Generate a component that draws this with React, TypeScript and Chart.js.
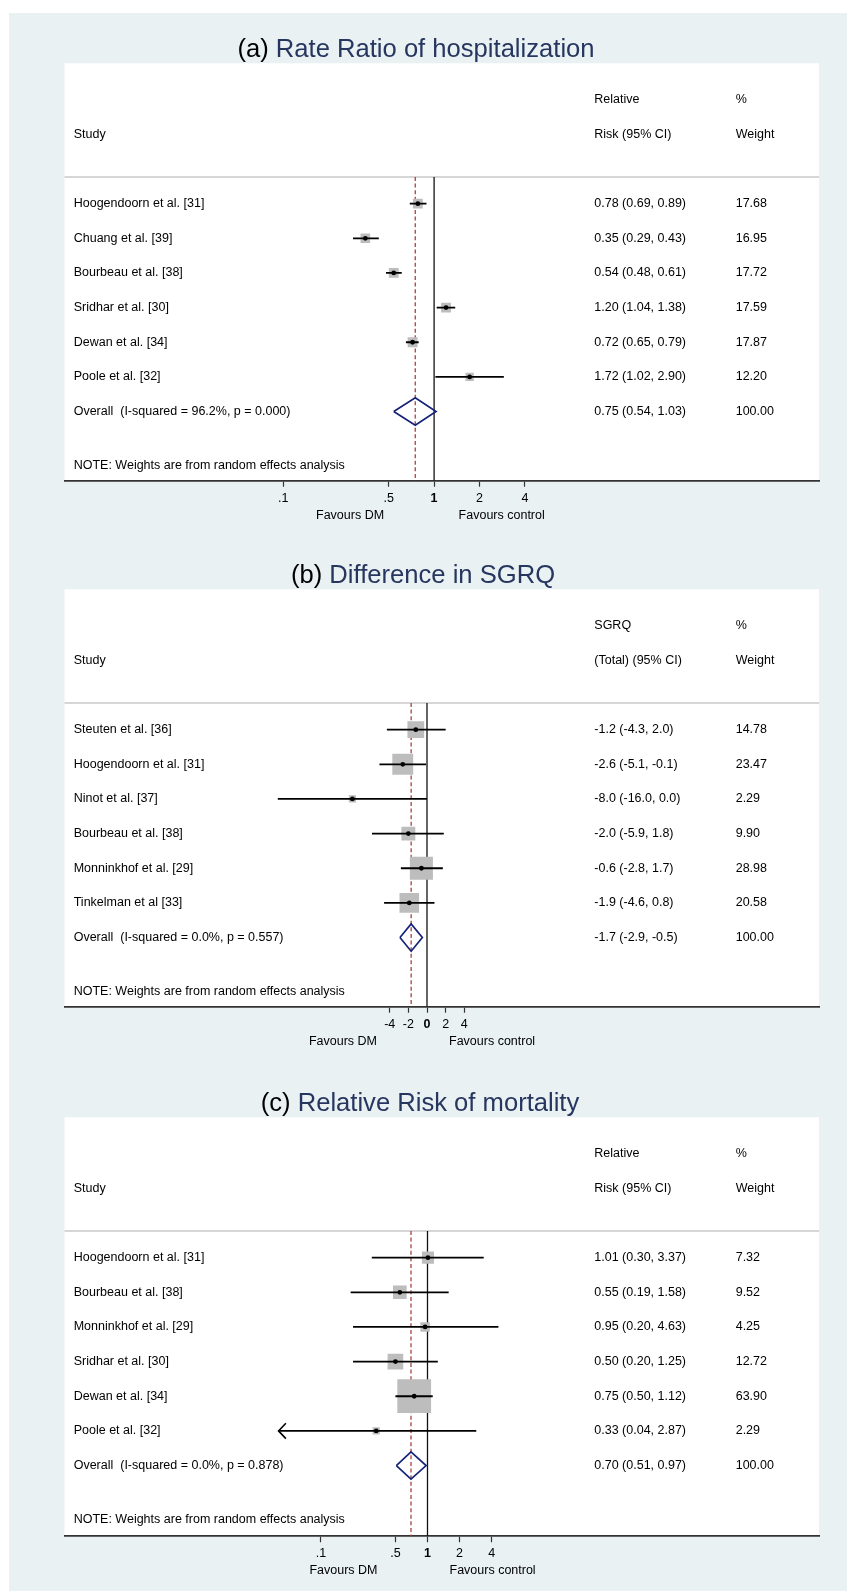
import React, { useEffect, useRef } from 'react';
import { Chart, registerables } from 'chart.js';

Chart.register(...registerables);

// ---------------- DATA ----------------
// (a) Rate Ratio of hospitalization
const studiesA = [
  'Hoogendoorn et al. [31]',
  'Chuang et al. [39]',
  'Bourbeau et al. [38]',
  'Sridhar et al. [30]',
  'Dewan et al. [34]',
  'Poole et al. [32]',
];
const estA = [0.78, 0.35, 0.54, 1.2, 0.72, 1.72];
const lowA = [0.69, 0.29, 0.48, 1.04, 0.65, 1.02];
const highA = [0.89, 0.43, 0.61, 1.38, 0.79, 2.9];
const weightA = [17.68, 16.95, 17.72, 17.59, 17.87, 12.2];
const overallA = [0.75, 0.54, 1.03]; // estimate, low, high
const overallLabelA = 'Overall  (I-squared = 96.2%, p = 0.000)';
const ticksA = [0.1, 0.5, 1, 2, 4];
const tickLabelsA = ['.1', '.5', '1', '2', '4'];

// (b) Difference in SGRQ
const studiesB = [
  'Steuten et al. [36]',
  'Hoogendoorn et al. [31]',
  'Ninot et al. [37]',
  'Bourbeau et al. [38]',
  'Monninkhof et al. [29]',
  'Tinkelman et al [33]',
];
const estB = [-1.2, -2.6, -8.0, -2.0, -0.6, -1.9];
const lowB = [-4.3, -5.1, -16.0, -5.9, -2.8, -4.6];
const highB = [2.0, -0.1, 0.0, 1.8, 1.7, 0.8];
const weightB = [14.78, 23.47, 2.29, 9.9, 28.98, 20.58];
const overallB = [-1.7, -2.9, -0.5];
const overallLabelB = 'Overall  (I-squared = 0.0%, p = 0.557)';
const ticksB = [-4, -2, 0, 2, 4];
const tickLabelsB = ['-4', '-2', '0', '2', '4'];

// (c) Relative Risk of mortality
const studiesC = [
  'Hoogendoorn et al. [31]',
  'Bourbeau et al. [38]',
  'Monninkhof et al. [29]',
  'Sridhar et al. [30]',
  'Dewan et al. [34]',
  'Poole et al. [32]',
];
const estC = [1.01, 0.55, 0.95, 0.5, 0.75, 0.33];
const lowC = [0.3, 0.19, 0.2, 0.2, 0.5, 0.04];
const highC = [3.37, 1.58, 4.63, 1.25, 1.12, 2.87];
const weightC = [7.32, 9.52, 4.25, 12.72, 63.9, 2.29];
const arrowLeftC = [false, false, false, false, false, true];
const overallC = [0.7, 0.51, 0.97];
const overallLabelC = 'Overall  (I-squared = 0.0%, p = 0.878)';
const ticksC = [0.1, 0.5, 1, 2, 4];
const tickLabelsC = ['.1', '.5', '1', '2', '4'];

// ---------------- STYLE / LAYOUT ----------------
const FONT = '"Liberation Sans", Arial, Helvetica, sans-serif';
const TEXT_SIZE = 12.5;
const TITLE_SIZE = 25.6;
const BG = '#e9f1f3';
const NAVY_TITLE = '#27365f';
const NAVY_DIAMOND = '#16237a';
const BOX_GRAY = '#bdbdbd';
const DASH_RED = '#a8403f';
const CANVAS_W = 856;
const CANVAS_H = 528;
const PLOT_LEFT = 64.5;
const PLOT_RIGHT = 819;
const PAD_TOP = 63.3;
const ROW_PX = 34.65;
const Y_MIN = -4.05;
const SEP_ROW = -0.77;
const NOTE_ROW = 7.55;
const X_AXIS_H = 40;
const COL1 = 73.7;
const COL2 = 594.3;
const COL3 = 735.7;

type Panel = {
  letter: string;
  title: string;
  studies: string[];
  est: number[];
  low: number[];
  high: number[];
  weight: number[];
  overall: number[];
  overallLabel: string;
  header1: string;
  header2: string;
  decimals: number;
  ticks: number[];
  tickLabels: string[];
  refValue: number;
  log: boolean;
  arrowLeft: boolean[];
  canvasTop: number;
  plotH: number;
  x0: number;
  k: number;
  titleCx: number;
  favRightOff: number;
  boxScale: number;
};

const panels: Panel[] = [
  {
    letter: '(a) ', title: 'Rate Ratio of hospitalization',
    studies: studiesA, est: estA, low: lowA, high: highA, weight: weightA,
    overall: overallA, overallLabel: overallLabelA,
    header1: 'Relative', header2: 'Risk (95% CI)', decimals: 2,
    ticks: ticksA, tickLabels: tickLabelsA, refValue: 1, log: true,
    arrowLeft: studiesA.map(() => false),
    canvasTop: 0, plotH: 417.4, x0: 434.1, k: 65.5, titleCx: 416, favRightOff: 24.5, boxScale: 2.1,
  },
  {
    letter: '(b) ', title: 'Difference in SGRQ',
    studies: studiesB, est: estB, low: lowB, high: highB, weight: weightB,
    overall: overallB, overallLabel: overallLabelB,
    header1: 'SGRQ', header2: '(Total) (95% CI)', decimals: 1,
    ticks: ticksB, tickLabels: tickLabelsB, refValue: 0, log: false,
    arrowLeft: studiesB.map(() => false),
    canvasTop: 526, plotH: 417.4, x0: 427, k: 9.325, titleCx: 423, favRightOff: 22, boxScale: 4.1,
  },
  {
    letter: '(c) ', title: 'Relative Risk of mortality',
    studies: studiesC, est: estC, low: lowC, high: highC, weight: weightC,
    overall: overallC, overallLabel: overallLabelC,
    header1: 'Relative', header2: 'Risk (95% CI)', decimals: 2,
    ticks: ticksC, tickLabels: tickLabelsC, refValue: 1, log: true,
    arrowLeft: arrowLeftC,
    canvasTop: 1054, plotH: 419, x0: 427.5, k: 46.27, titleCx: 420, favRightOff: 22, boxScale: 4.1,
  },
];

function fmtCI(e: number, l: number, h: number, d: number) {
  return `${e.toFixed(d)} (${l.toFixed(d)}, ${h.toFixed(d)})`;
}

function ForestPanel({ p }: { p: Panel }) {
  const ref = useRef<HTMLCanvasElement | null>(null);

  useEffect(() => {
    if (!ref.current) return;
    const n = p.studies.length;
    const yMax = Y_MIN + p.plotH / ROW_PX;
    const xMin = p.log ? Math.exp((PLOT_LEFT - p.x0) / p.k) : (PLOT_LEFT - p.x0) / p.k;
    const xMax = p.log ? Math.exp((PLOT_RIGHT - p.x0) / p.k) : (PLOT_RIGHT - p.x0) / p.k;
    const [oEst, oLow, oHigh] = p.overall;

    const ciSets = p.studies.map((_, i) => ({
      type: 'line' as const,
      data: [
        { x: p.low[i], y: i },
        { x: p.high[i], y: i },
      ],
      borderColor: '#000',
      borderWidth: 1.8,
      pointRadius: 0,
      fill: false,
      showLine: true,
      borderCapStyle: 'butt' as const,
      order: 3,
    }));

    const textPlugin = {
      id: 'forestText' + p.letter,
      beforeDraw(chart: any) {
        const { ctx, chartArea } = chart;
        const ys = chart.scales.y;
        ctx.save();
        // white plot region
        ctx.fillStyle = '#ffffff';
        ctx.fillRect(chartArea.left, chartArea.top, chartArea.right - chartArea.left, chartArea.bottom - chartArea.top);
        // separator
        const sy = ys.getPixelForValue(SEP_ROW);
        ctx.strokeStyle = '#c9c9c9';
        ctx.lineWidth = 1.6;
        ctx.beginPath();
        ctx.moveTo(chartArea.left, sy);
        ctx.lineTo(chartArea.right, sy);
        ctx.stroke();
        // title
        ctx.font = `${TITLE_SIZE}px ${FONT}`;
        ctx.textBaseline = 'alphabetic';
        ctx.textAlign = 'left';
        const w1 = ctx.measureText(p.letter).width;
        const w2 = ctx.measureText(p.title).width;
        const tx = p.titleCx - (w1 + w2) / 2;
        const ty = chartArea.top - 6.3;
        ctx.fillStyle = '#000';
        ctx.fillText(p.letter, tx, ty);
        ctx.fillStyle = NAVY_TITLE;
        ctx.fillText(p.title, tx + w1, ty);
        ctx.restore();
      },
      afterDatasetsDraw(chart: any) {
        const { ctx } = chart;
        const xs = chart.scales.x;
        const ys = chart.scales.y;
        ctx.save();
        ctx.strokeStyle = '#000';
        ctx.lineWidth = 1.6;
        p.arrowLeft.forEach((a, i) => {
          if (!a) return;
          const px = xs.getPixelForValue(p.low[i]);
          const py = ys.getPixelForValue(i);
          ctx.beginPath();
          ctx.moveTo(px + 7.3, py - 7.7);
          ctx.lineTo(px, py);
          ctx.lineTo(px + 7.3, py + 7.7);
          ctx.stroke();
        });
        ctx.restore();
      },
      afterDraw(chart: any) {
        const { ctx, chartArea } = chart;
        const ys = chart.scales.y;
        const xs = chart.scales.x;
        ctx.save();
        ctx.fillStyle = '#000';
        ctx.font = `${TEXT_SIZE}px ${FONT}`;
        ctx.textBaseline = 'middle';
        ctx.textAlign = 'left';
        const yh1 = ys.getPixelForValue(-3);
        const yh2 = ys.getPixelForValue(-2);
        ctx.fillText(p.header1, COL2, yh1);
        ctx.fillText('%', COL3, yh1);
        ctx.fillText('Study', COL1, yh2);
        ctx.fillText(p.header2, COL2, yh2);
        ctx.fillText('Weight', COL3, yh2);
        p.studies.forEach((s, i) => {
          const y = ys.getPixelForValue(i);
          ctx.fillText(s, COL1, y);
          ctx.fillText(fmtCI(p.est[i], p.low[i], p.high[i], p.decimals), COL2, y);
          ctx.fillText(p.weight[i].toFixed(2), COL3, y);
        });
        const yo = ys.getPixelForValue(n);
        ctx.fillText(p.overallLabel, COL1, yo);
        ctx.fillText(fmtCI(oEst, oLow, oHigh, p.decimals), COL2, yo);
        ctx.fillText((100).toFixed(2), COL3, yo);
        ctx.fillText('NOTE: Weights are from random effects analysis', COL1, ys.getPixelForValue(NOTE_ROW));
        // favours labels
        const refPx = xs.getPixelForValue(p.refValue);
        const fy = chartArea.bottom + 34.5;
        ctx.textAlign = 'right';
        ctx.fillText('Favours DM', refPx - 50, fy);
        ctx.textAlign = 'left';
        ctx.fillText('Favours control', refPx + p.favRightOff, fy);
        ctx.restore();
      },
    };

    const chart = new Chart(ref.current, {
      type: 'scatter',
      data: {
        datasets: [
          // overall diamond
          {
            type: 'line',
            data: [
              { x: oLow, y: n },
              { x: oEst, y: n - 0.395 },
              { x: oHigh, y: n },
              { x: oEst, y: n + 0.395 },
              { x: oLow, y: n },
            ],
            borderColor: NAVY_DIAMOND,
            borderWidth: 1.7,
            borderJoinStyle: 'miter',
            pointRadius: 0,
            fill: false,
            showLine: true,
            order: 1,
          },
          // point estimates
          {
            type: 'scatter',
            data: p.est.map((e, i) => ({ x: e, y: i })),
            pointStyle: 'circle',
            pointRadius: 2.4,
            backgroundColor: '#000',
            borderColor: '#000',
            borderWidth: 0,
            order: 2,
          },
          ...ciSets,
          // weight boxes
          {
            type: 'scatter',
            data: p.est.map((e, i) => ({ x: e, y: i })),
            pointStyle: 'rect',
            pointRadius: p.weight.map((w) => (p.boxScale * Math.sqrt(w) + 1) / Math.SQRT2),
            backgroundColor: BOX_GRAY,
            borderColor: BOX_GRAY,
            borderWidth: 0,
            order: 4,
          },
          // null line
          {
            type: 'line',
            data: [
              { x: p.refValue, y: SEP_ROW },
              { x: p.refValue, y: yMax },
            ],
            borderColor: '#111',
            borderWidth: 1.3,
            pointRadius: 0,
            fill: false,
            showLine: true,
            order: 5,
          },
          // overall estimate dashed line
          {
            type: 'line',
            data: [
              { x: oEst, y: SEP_ROW },
              { x: oEst, y: yMax },
            ],
            borderColor: DASH_RED,
            borderWidth: 1.3,
            borderDash: [4, 2.6],
            pointRadius: 0,
            fill: false,
            showLine: true,
            order: 6,
          },
        ] as any,
      },
      options: {
        responsive: false,
        animation: false,
        events: [],
        layout: {
          padding: {
            top: PAD_TOP,
            left: PLOT_LEFT,
            right: CANVAS_W - PLOT_RIGHT,
            bottom: CANVAS_H - PAD_TOP - p.plotH - X_AXIS_H,
          },
        },
        plugins: {
          legend: { display: false },
          tooltip: { enabled: false },
          title: { display: false },
        },
        scales: {
          x: {
            type: p.log ? 'logarithmic' : 'linear',
            position: 'bottom',
            min: xMin,
            max: xMax,
            bounds: 'data',
            border: { display: true, color: '#333', width: 1.7 },
            grid: {
              display: true,
              drawOnChartArea: false,
              drawTicks: true,
              tickLength: 6,
              tickColor: '#333',
              tickWidth: 1.2,
            },
            ticks: {
              autoSkip: false,
              maxRotation: 0,
              minRotation: 0,
              padding: 4,
              color: '#000',
              font: (ctx: any) => ({
                family: FONT,
                size: TEXT_SIZE,
                weight: ctx.tick && ctx.tick.value === p.refValue ? 'bold' : 'normal',
              }),
              callback: (_v: any, idx: number) => p.tickLabels[idx],
            },
            afterBuildTicks: (s: any) => {
              s.ticks = p.ticks.map((v) => ({ value: v }));
            },
            afterFit: (s: any) => {
              s.height = X_AXIS_H;
            },
          } as any,
          y: {
            type: 'linear',
            display: false,
            reverse: true,
            min: Y_MIN,
            max: yMax,
            bounds: 'data',
          } as any,
        },
      },
      plugins: [textPlugin],
    });
    return () => chart.destroy();
  }, [p]);

  return (
    <canvas
      ref={ref}
      width={CANVAS_W}
      height={CANVAS_H}
      style={{ position: 'absolute', left: 0, top: p.canvasTop, width: CANVAS_W, height: CANVAS_H }}
    />
  );
}

export default function App() {
  return (
    <div style={{ position: 'absolute', left: 0, top: 0, width: 856, height: 1591, background: '#ffffff', overflow: 'hidden' }}>
      <div style={{ position: 'absolute', left: 9, top: 13, width: 838, height: 1578, background: BG }} />
      {panels.map((p) => (
        <ForestPanel key={p.letter} p={p} />
      ))}
    </div>
  );
}
